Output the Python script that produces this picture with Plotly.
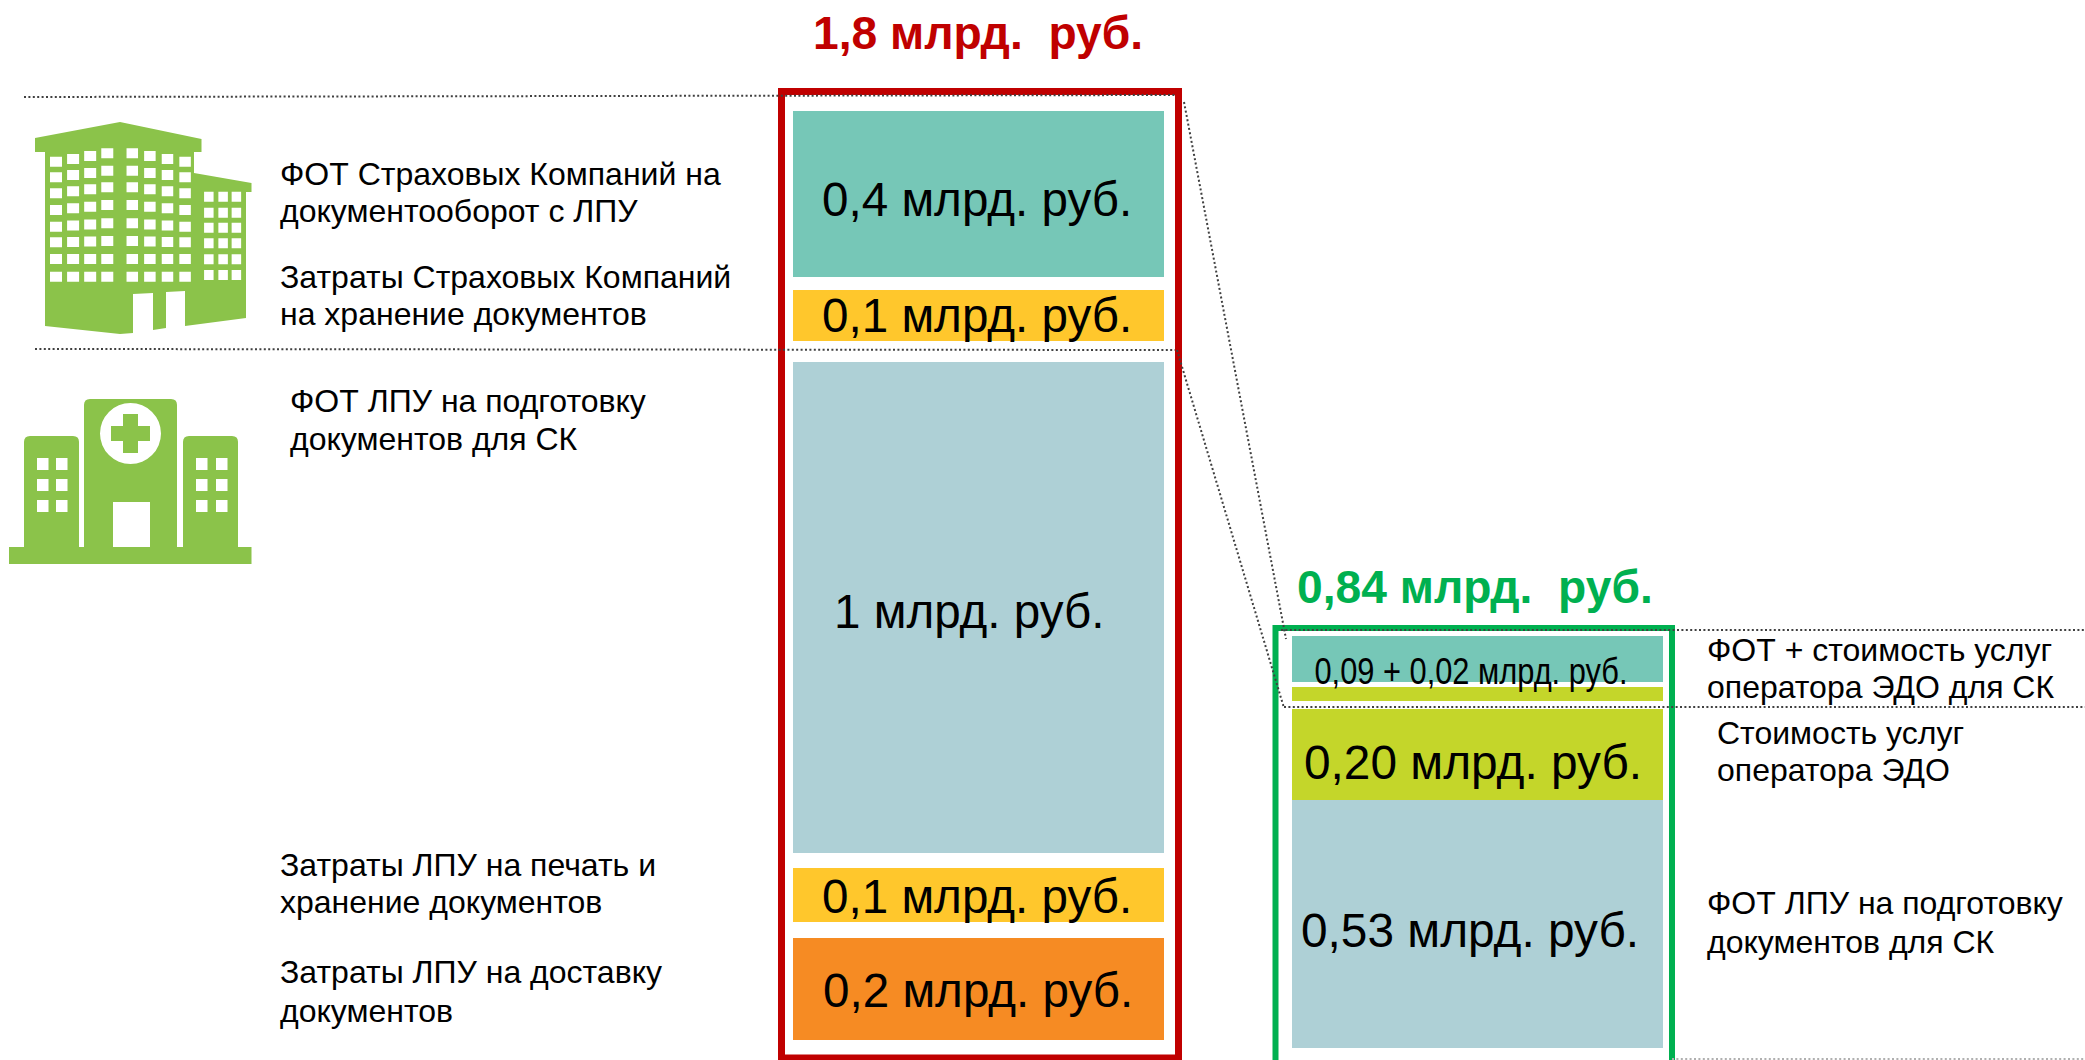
import plotly.graph_objects as go

W, H = 2085, 1060
PX_PER_BN = 500  # vertical scale of the columns, pixels per billion

# ---- data: column segments (billion roubles of bar length)
red_values = [0.332, 0.102, 0.982, 0.108, 0.204]
red_gaps = [0.222, 0.026, 0.042, 0.030, 0.032]
red_colors = ["#76C7B7", "#FFC72C", "#AED0D6", "#FFC72C", "#F68B23"]
red_labels = ["0,4 млрд. руб.", "0,1 млрд. руб.", "1 млрд. руб.", "0,1 млрд. руб.", "0,2 млрд. руб."]

green_values = [0.092, 0.028, 0.182, 0.496]
green_gaps = [1.272, 0.010, 0.016, 0.0]
green_colors = ["#76C7B7", "#C4D62A", "#C4D62A", "#AED0D6"]
green_labels = ["0,09 + 0,02 млрд. руб.", "0,20 млрд. руб.", "0,53 млрд. руб."]

red_total = "1,8 млрд.  руб."
green_total = "0,84 млрд.  руб."

left_notes = [
    "ФОТ Страховых Компаний на", "документооборот с ЛПУ",
    "Затраты Страховых Компаний", "на хранение документов",
    "ФОТ ЛПУ на подготовку", "документов для СК",
    "Затраты ЛПУ на печать и", "хранение документов",
    "Затраты ЛПУ на доставку", "документов",
]
right_notes = [
    "ФОТ + стоимость услуг", "оператора ЭДО для СК",
    "Стоимость услуг", "оператора ЭДО",
    "ФОТ ЛПУ на подготовку", "документов для СК",
]

# ---- layout positions
left_note_pos = [(278, 174), (278, 211), (278, 277), (278, 314), (288, 401), (288, 439),
                 (278, 865), (278, 902), (278, 972), (278, 1011)]
right_note_pos = [(1705, 650), (1705, 687), (1715, 733), (1715, 770), (1705, 903), (1705, 942)]
red_label_pos = [(977, 200), (977, 316), (969, 611), (977, 896), (978, 990)]
green_label_pos = [(1471, 671), (1473, 762), (1470, 930)]

RED, GREEN_T, ICON = "#C00000", "#00B050", "#8BC34A"
FONT = "Liberation Sans"


def stack(values, gaps):
    bases, pos = [], 0.0
    for v, g in zip(values, gaps):
        pos += g
        bases.append(pos)
        pos += v
    return bases


fig = go.Figure()
fig.add_trace(go.Bar(x=[978.5] * len(red_values), y=red_values, base=stack(red_values, red_gaps),
                     width=371, marker=dict(color=red_colors, line_width=0), hoverinfo="skip"))
fig.add_trace(go.Bar(x=[1477.5] * len(green_values), y=green_values, base=stack(green_values, green_gaps),
                     width=371, marker=dict(color=green_colors, line_width=0), hoverinfo="skip"))


def py(v):
    return 1 - v / H


def poly(points):
    return "M" + " L".join(f"{x},{py(y):.5f}" for x, y in points) + " Z"


def rect(x0, y0, x1, y1):
    return poly([(x0, y0), (x1, y0), (x1, y1), (x0, y1)])


shapes = []


def add_path(d, fill=None, line=None, width=0, dash=None):
    s = dict(type="path", path=d, xref="x", yref="paper", layer="above")
    s["fillcolor"] = fill if fill else "rgba(0,0,0,0)"
    s["line"] = dict(color=line if line else "rgba(0,0,0,0)", width=width)
    if dash:
        s["line"]["dash"] = dash
    shapes.append(s)


def dotted(x0, y0, x1, y1, color="#404040"):
    shapes.append(dict(type="line", x0=x0, x1=x1, y0=py(y0), y1=py(y1), xref="x", yref="paper", layer="above",
                       line=dict(color=color, width=2, dash="2px,2.4px")))


# office building icon
office = [(120, 122), (201.5, 139), (201.5, 152), (194, 152), (194, 173), (251.5, 183), (251.5, 192), (246, 192),
          (246, 318), (185, 326), (185, 291), (166, 292), (166, 328), (153, 330), (153, 293), (133, 294),
          (133, 333), (120, 334), (45, 326), (45, 152), (35, 152), (35, 138)]
add_path(poly(office), fill=ICON)
win = []
left_rows_a = [245, 292, 340, 390, 440, 487, 537, 590]
left_rows_b = [220, 272, 322, 375, 430, 483, 537, 590]
for a, b in zip(left_rows_a, left_rows_b):
    for c in range(4):
        x0 = (98 + 33.5 * c) / 1.96
        yc = (a + (b - a) * c / 3) / 3 + 80
        win.append(rect(x0, yc - 5, x0 + 12, yc + 5))
    for c in range(4):
        x0 = (248 + 34.5 * c) / 1.96
        yc = (b + (a - b) * c / 3) / 3 + 80
        win.append(rect(x0, yc - 5, x0 + 11.5, yc + 5))
for r in [350, 398, 443, 490, 538, 585]:
    for c in [400, 428, 454]:
        yc = r / 3 + 80
        win.append(rect(c / 1.96, yc - 5, c / 1.96 + 9.5, yc + 5))
add_path(" ".join(win), fill="#FFFFFF")

# hospital icon
add_path(rect(9, 547, 251.5, 564), fill=ICON)
add_path(f"M84,{py(547):.5f} L84,{py(405):.5f} Q84,{py(399):.5f} 90,{py(399):.5f} L171,{py(399):.5f} "
         f"Q177,{py(399):.5f} 177,{py(405):.5f} L177,{py(547):.5f} Z", fill=ICON)
for x0, x1 in [(24, 79), (183, 238)]:
    add_path(f"M{x0},{py(547):.5f} L{x0},{py(442):.5f} Q{x0},{py(436):.5f} {x0 + 6},{py(436):.5f} "
             f"L{x1 - 6},{py(436):.5f} Q{x1},{py(436):.5f} {x1},{py(442):.5f} L{x1},{py(547):.5f} Z", fill=ICON)
shapes.append(dict(type="circle", xref="x", yref="paper", x0=100, x1=161, y0=py(464), y1=py(403),
                   fillcolor="#FFFFFF", line_width=0, layer="above"))
add_path(poly([(123, 414), (138, 414), (138, 426), (150, 426), (150, 441), (138, 441), (138, 453), (123, 453),
               (123, 441), (111, 441), (111, 426), (123, 426)]), fill=ICON)
hwin = [rect(113, 502, 150, 547)]
for cx in [37, 56, 196, 216]:
    for y0 in [458, 479, 500]:
        hwin.append(rect(cx, y0, cx + 11.5, y0 + 12))
add_path(" ".join(hwin), fill="#FFFFFF")

# outlines of the columns
add_path(poly([(781.5, 91.5), (1178.5, 91.5), (1178.5, 1058), (781.5, 1058)]), line=RED, width=7)
add_path(f"M1275.5,{py(1062):.5f} L1275.5,{py(628):.5f} L1672,{py(628):.5f} L1672,{py(1062):.5f}",
         line=GREEN_T, width=6)

# dotted guides
dotted(24, 97, 1176, 95)
dotted(35, 349, 1175, 350)
dotted(1184, 102, 1286, 639)
dotted(1177, 350, 1284, 708)
dotted(1281, 630, W, 630)
dotted(1284, 707, W, 707)
dotted(1672, 1059, W, 1059, color="#B0B0B0")

annotations = []


def note(text, x, y, size=32, color="#000000", family=FONT, anchor="left", bold=False):
    annotations.append(dict(text=f"<b>{text}</b>" if bold else text, x=x, y=py(y), xref="x", yref="paper",
                            xanchor=anchor, yanchor="middle", showarrow=False,
                            font=dict(size=size, color=color, family=family)))


for t, (x, y) in zip(left_notes + right_notes, left_note_pos + right_note_pos):
    note(t, x, y)
for t, (x, y) in zip(red_labels, red_label_pos):
    note(t, x, y, size=47.6, anchor="center")
note(green_labels[0], *green_label_pos[0], size=37, anchor="center")
for t, (x, y) in zip(green_labels[1:], green_label_pos[1:]):
    note(t, x, y, size=47.8, anchor="center")
note(red_total, 978, 33, size=46.2, color=RED, anchor="center", bold=True)
note(green_total, 1475, 587, size=46.2, color=GREEN_T, anchor="center", bold=True)

fig.update_layout(
    width=W, height=H, margin=dict(l=0, r=0, t=0, b=0), autosize=False,
    paper_bgcolor="#FFFFFF", plot_bgcolor="#FFFFFF", showlegend=False, barmode="overlay",
    xaxis=dict(range=[0, W], visible=False, fixedrange=True),
    yaxis=dict(range=[H / PX_PER_BN, 0], visible=False, fixedrange=True),
    shapes=shapes, annotations=annotations,
)
squeeze = """
document.body.style.margin='0';document.body.style.overflow='hidden';
document.querySelectorAll('.annotation-text').forEach(function(t){
  if(t.textContent.indexOf('0,09')===0){t.setAttribute('textLength','313');t.setAttribute('lengthAdjust','spacingAndGlyphs');}
});
"""
fig.write_html("out.html", config=dict(displayModeBar=False), post_script=squeeze)
